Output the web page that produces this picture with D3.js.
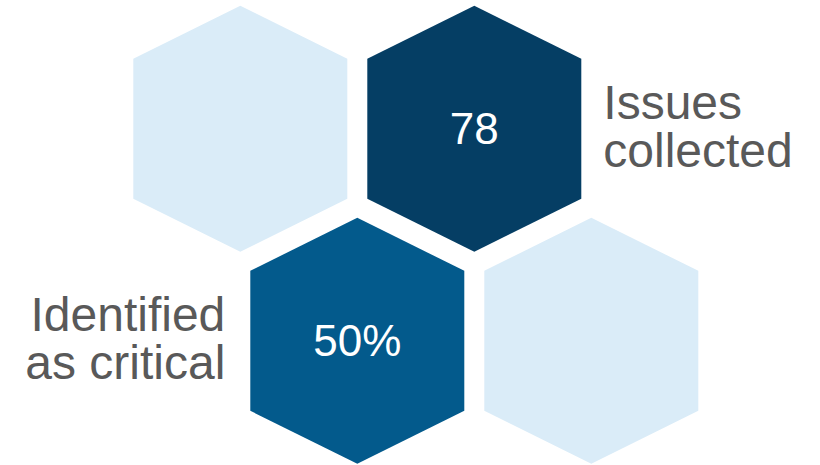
<!DOCTYPE html>
<html>
<head>
    <meta charset="utf-8" />
    <title>hex stats</title>
    <style>
        * { margin: 0; padding: 0 }
        html, body { width: 100%; height: 100%; background: #fff; }
        svg { display: block; }
    </style>
</head>
<body>
    <svg id="view" width="820" height="465"></svg>
    <script src="https://cdn.jsdelivr.net/npm/d3@7"></script>
    <script>
        // hex cells: grid column / row, value text, fill
        const cellCols = [0, 1, 0.5, 1.5];
        const cellRows = [0, 0, 1, 1];
        const cellValues = ["", "78", "50%", ""];
        const cellColors = ["#daecf8", "#053e64", "#035a8c", "#daecf8"];

        // side labels
        const labelLines = [["Issues", "collected"], ["Identified", "as critical"]];
        const labelCells = [1, 2];
        const labelSides = ["right", "left"];

        const svg = d3.select("#view");

        const x = d3.scaleLinear().domain([0, 1]).range([240.3, 474.3]);
        const y = d3.scaleLinear().domain([0, 1]).range([128.8, 340.8]);

        const hw = 107, tip = 123, shoulder = 70;
        const hexPts = [[0, -tip], [hw, -shoulder], [hw, shoulder], [0, tip], [-hw, shoulder], [-hw, -shoulder]];
        const hexLine = d3.line().curve(d3.curveLinearClosed);

        const cells = cellCols.map((c, i) => ({
            cx: x(c), cy: y(cellRows[i]), value: cellValues[i], color: cellColors[i]
        }));

        const g = svg.selectAll("g.cell").data(cells).join("g")
            .attr("class", "cell")
            .attr("transform", d => `translate(${d.cx},${d.cy})`);

        g.append("path")
            .attr("d", hexLine(hexPts))
            .attr("fill", d => d.color);

        g.append("text")
            .attr("text-anchor", "middle")
            .attr("y", 15)
            .attr("fill", "#fff")
            .style("font-family", "'Liberation Sans', Arial, sans-serif")
            .style("font-size", "44px")
            .text(d => d.value);

        // labels next to the hexes
        labelLines.forEach((lines, i) => {
            const c = cells[labelCells[i]];
            const right = labelSides[i] === "right";
            const t = svg.append("text")
                .attr("text-anchor", right ? "start" : "end")
                .attr("fill", "#595959")
                .style("font-family", "'Liberation Sans', Arial, sans-serif")
                .style("font-size", "48px");
            lines.forEach((ln, j) => {
                t.append("tspan")
                    .attr("x", right ? c.cx + hw + 22 : c.cx - hw - 25)
                    .attr("y", right ? c.cy - 10 + j * 48 : c.cy - 10 + j * 48)
                    .text(ln);
            });
        });
    </script>
</body>
</html>
